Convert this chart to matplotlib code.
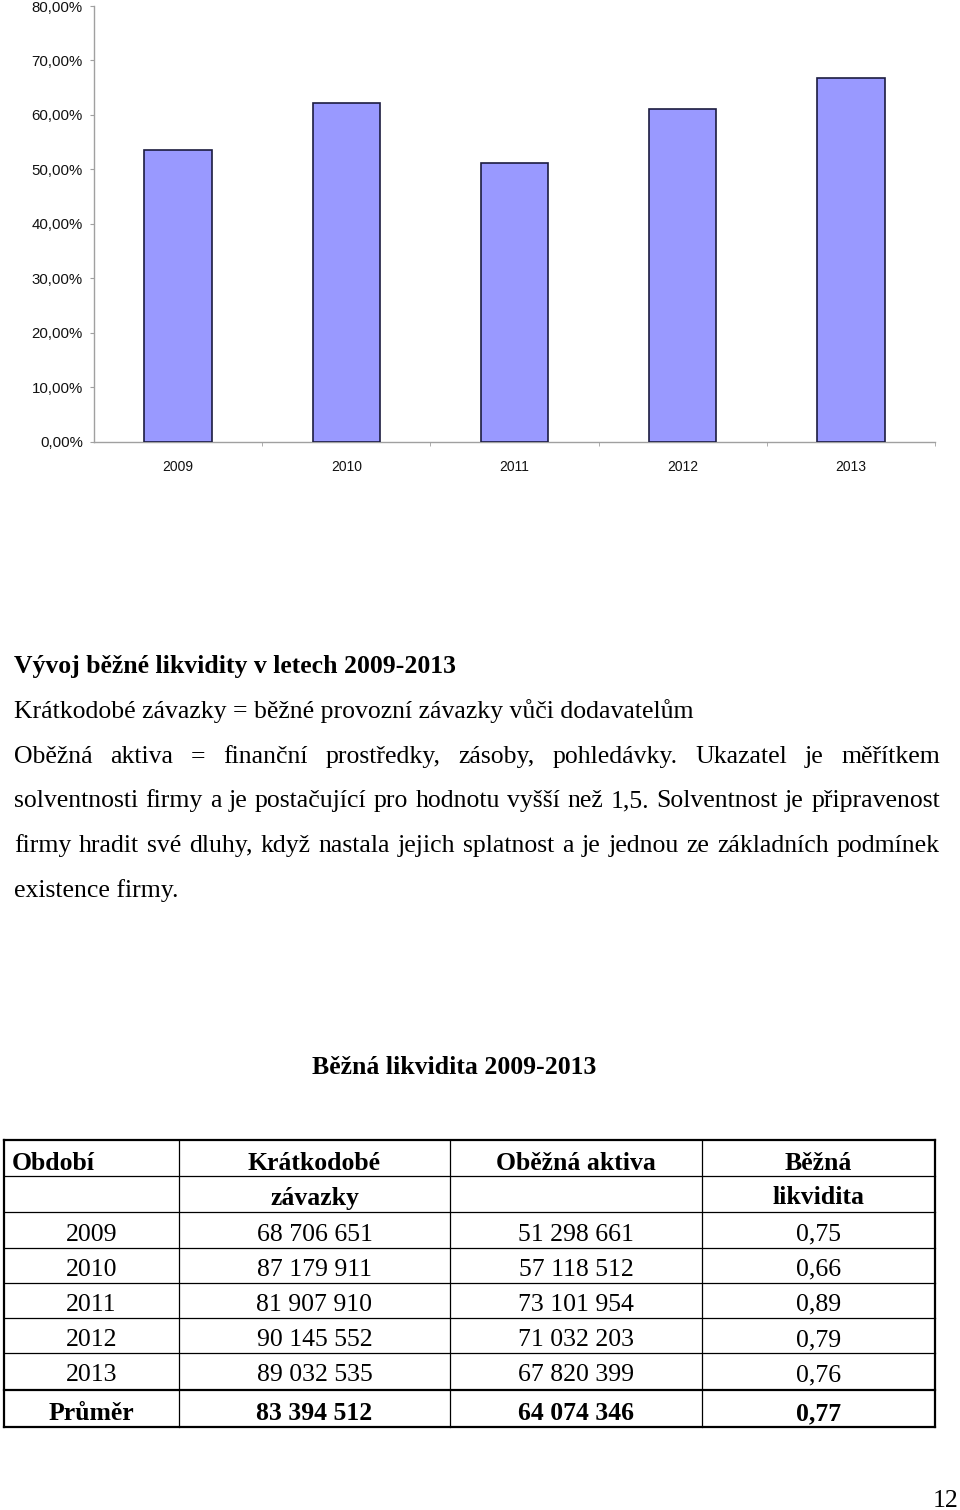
import matplotlib
matplotlib.use("Agg")
import matplotlib.pyplot as plt
from matplotlib.ticker import FuncFormatter

# chart data
years = ['2009', '2010', '2011', '2012', '2013']
share = [0.536, 0.621, 0.512, 0.610, 0.668]

# text of the page
heading = "Vývoj běžné likvidity v letech 2009-2013"
para_first = "Krátkodobé závazky = běžné provozní závazky vůči dodavatelům"
para_justified = [
    "Oběžná aktiva = finanční prostředky, zásoby, pohledávky. Ukazatel je měřítkem",
    "solventnosti firmy a je postačující pro hodnotu vyšší než 1,5. Solventnost je připravenost",
    "firmy hradit své dluhy, když nastala jejich splatnost a je jednou ze základních podmínek",
]
para_last = "existence firmy."

# table data
table_title = "Běžná likvidita 2009-2013"
head_row1 = ["Období", "Krátkodobé", "Oběžná aktiva", "Běžná"]
head_row2 = ["", "závazky", "", "likvidita"]
periods = ['2009', '2010', '2011', '2012', '2013']
liabilities = ["68 706 651", "87 179 911", "81 907 910", "90 145 552", "89 032 535"]
current_assets = ["51 298 661", "57 118 512", "73 101 954", "71 032 203", "67 820 399"]
ratio = ["0,75", "0,66", "0,89", "0,79", "0,76"]
avg_row = ["Průměr", "83 394 512", "64 074 346", "0,77"]
page_no = "12"

W, H = 960, 1510
fig = plt.figure(figsize=(W / 100, H / 100), dpi=100)
fig.patch.set_facecolor('white')

# --- bar chart ---
y0, y80 = 441.7, 6.0
ax = fig.add_axes([94 / W, (H - y0) / H, (935 - 94) / W, (y0 - y80) / H])
ax.bar(range(len(years)), share, width=0.4, color='#9999ff',
       edgecolor='#1c1c40', linewidth=1.2, zorder=3)
ax.set_xlim(-0.5, len(years) - 0.5)
ax.set_ylim(0, 0.8)
ax.set_yticks([i / 10 for i in range(9)])
ax.yaxis.set_major_formatter(FuncFormatter(lambda v, p: f"{v * 100:.2f}%".replace('.', ',')))
ax.set_xticks(range(len(years)))
ax.set_xticklabels(years)
ax.set_xticks([i + 0.5 for i in range(len(years))], minor=True)
for s in ['top', 'right']:
    ax.spines[s].set_visible(False)
for s in ['left', 'bottom']:
    ax.spines[s].set_color('#a0a0a0')
    ax.spines[s].set_linewidth(1.0)
ax.tick_params(axis='y', length=3, color='#a0a0a0', pad=5, labelsize=10.8)
ax.tick_params(axis='x', which='major', length=0, pad=13, labelsize=10)
ax.tick_params(axis='x', which='minor', length=3, color='#a0a0a0')
for lab in ax.get_xticklabels() + ax.get_yticklabels():
    lab.set_fontfamily('Liberation Sans')
    lab.set_color('#111111')

# --- page text in pixel coordinates ---
pg = fig.add_axes([0, 0, 1, 1])
pg.set_xlim(0, W)
pg.set_ylim(H, 0)
pg.axis('off')

serif = 'Liberation Serif'
fs = 18.55
renderer = fig.canvas.get_renderer()


def justify(line, y, x0, x1):
    words = line.split(' ')
    texts = [pg.text(0, y, w, family=serif, fontsize=fs, va='baseline') for w in words]
    widths = [t.get_window_extent(renderer).width for t in texts]
    gap = (x1 - x0 - sum(widths)) / (len(words) - 1)
    x = x0
    for t, w in zip(texts, widths):
        t.set_x(x)
        x += w + gap


left, right = 14, 940
step = 44.8
pg.text(left, 673, heading, family=serif, fontsize=fs, fontweight='bold', va='baseline')
pg.text(left, 673 + step, para_first, family=serif, fontsize=fs, va='baseline')
for i, line in enumerate(para_justified):
    justify(line, 673 + step * (i + 2), left, right)
pg.text(left, 673 + step * 5, para_last, family=serif, fontsize=fs, va='baseline')

pg.text(454, 1074, table_title, family=serif, fontsize=fs, fontweight='bold',
        ha='center', va='baseline')

# --- table ---
cols = [4, 179, 450, 702, 935]
rows = [1139.5, 1175.7, 1211.7, 1247.7, 1283.3, 1318.3, 1353.3, 1389.7, 1426.7]
for i, yy in enumerate(rows):
    lw = 1.6 if i in (0, 7, 8) else 0.9
    pg.plot([cols[0], cols[-1]], [yy, yy], color='black', lw=lw, solid_capstyle='projecting')
for i, xx in enumerate(cols):
    lw = 1.6 if i in (0, 4) else 0.9
    pg.plot([xx, xx], [rows[0], rows[-1]], color='black', lw=lw, solid_capstyle='projecting')

centers = [(cols[i] + cols[i + 1]) / 2 for i in range(4)]
pg.text(12, 1169.5, head_row1[0], family=serif, fontsize=fs, fontweight='bold', va='baseline')
for c in range(1, 4):
    pg.text(centers[c], 1169.5, head_row1[c], family=serif, fontsize=fs,
            fontweight='bold', ha='center', va='baseline')
    if head_row2[c]:
        pg.text(centers[c], 1204.5, head_row2[c], family=serif, fontsize=fs,
                fontweight='bold', ha='center', va='baseline')

for r in range(len(periods)):
    yy = 1240.7 + 35.1 * r
    for c, val in enumerate([periods[r], liabilities[r], current_assets[r], ratio[r]]):
        pg.text(centers[c], yy, val, family=serif, fontsize=fs, ha='center', va='baseline')
for c, val in enumerate(avg_row):
    pg.text(centers[c], 1420, val, family=serif, fontsize=fs, fontweight='bold',
            ha='center', va='baseline')

pg.text(958, 1507, page_no, family=serif, fontsize=fs, ha='right', va='baseline')

fig.savefig('out.png', dpi=100)
